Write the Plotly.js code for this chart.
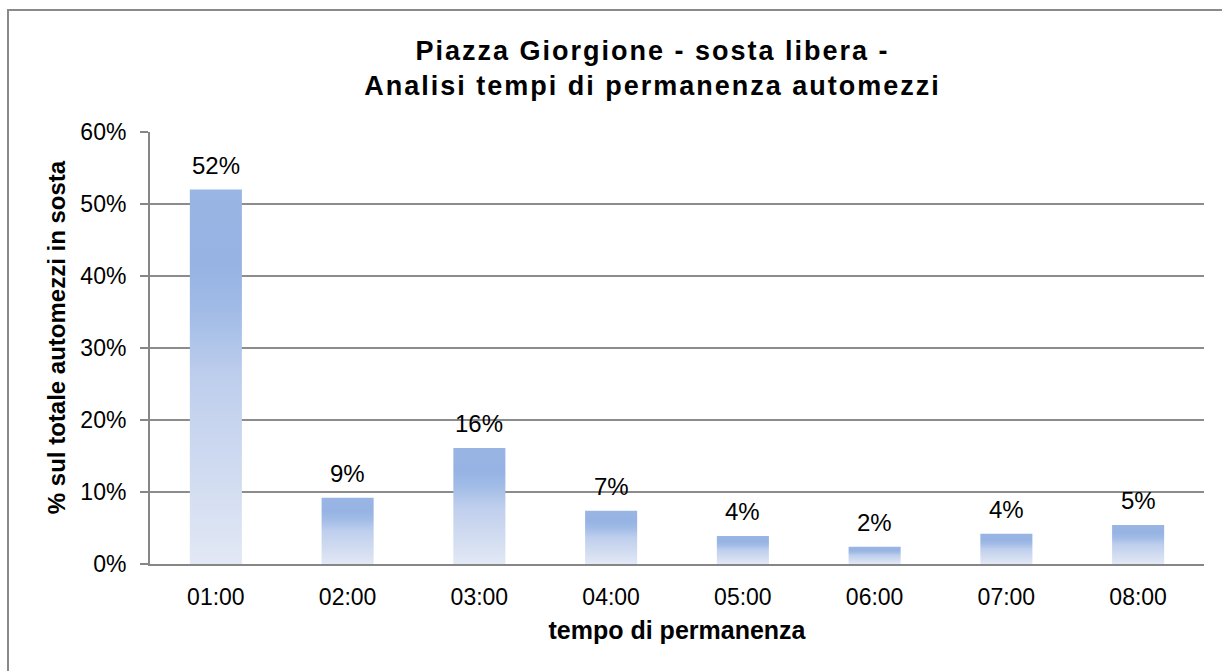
<!DOCTYPE html>
<html>
<head>
<meta charset="utf-8">
<script src="https://cdn.plot.ly/plotly-3.0.1.min.js"></script>
<style>
  html, body { margin: 0; padding: 0; background: #ffffff; }
  #wrap { position: relative; width: 1222px; height: 671px; overflow: hidden; }
  #chart { position: absolute; left: 0; top: 0; width: 1222px; height: 671px; }
  #frame { position: absolute; left: 7px; top: 9px; width: 1300px; height: 800px;
           border-left: 2px solid #8a8a8a; border-top: 2px solid #8a8a8a; pointer-events: none; }
</style>
</head>
<body>
<div id="wrap">
  <div id="chart"></div>
  <div id="frame"></div>
</div>
<script>
const categories = ["01:00", "02:00", "03:00", "04:00", "05:00", "06:00", "07:00", "08:00"];
const shares = [0.52, 0.092, 0.161, 0.074, 0.039, 0.024, 0.042, 0.054];
const yTickValues = [0, 0.1, 0.2, 0.3, 0.4, 0.5, 0.6];
const yTitleText = "<b>% sul totale automezzi in sosta</b>";

const font = "Liberation Sans, Arial, sans-serif";

const trace = {
  type: "bar",
  x: categories,
  y: shares,
  marker: { color: "#b3c7ea", line: { width: 0 } },
  hoverinfo: "none",
  showlegend: false
};

const annotations = categories.map((c, i) => ({
  x: c,
  y: shares[i],
  xref: "x",
  yref: "y",
  text: Math.round(shares[i] * 100) + "%",
  showarrow: false,
  yanchor: "bottom",
  yshift: 9,
  font: { family: font, size: 24, color: "#000000" }
}));

annotations.push({
  text: yTitleText,
  xref: "paper",
  yref: "paper",
  x: 0,
  y: 0.525,
  xanchor: "center",
  yanchor: "middle",
  xshift: -94,
  textangle: -90,
  showarrow: false,
  font: { family: font, size: 24, color: "#000000" }
});

const layout = {
  width: 1222,
  height: 671,
  margin: { l: 150, r: 18, t: 132, b: 107, pad: 0 },
  paper_bgcolor: "rgba(0,0,0,0)",
  plot_bgcolor: "#ffffff",
  bargap: 0.605,
  title: {
    text: "<b>Piazza Giorgione - sosta libera -<br>Analisi tempi di permanenza automezzi</b>",
    font: { family: font, size: 27, color: "#000000" },
    xref: "container",
    yref: "container",
    x: 0.534,
    xanchor: "center",
    y: 0.911,
    yanchor: "top"
  },
  xaxis: {
    type: "category",
    showline: true,
    linecolor: "#868686",
    linewidth: 2,
    ticks: "",
    showgrid: false,
    tickfont: { family: font, size: 23, color: "#000000" },
    ticklabelstandoff: 11,
    title: {
      text: "<b>tempo di permanenza</b>",
      font: { family: font, size: 25, color: "#000000" },
      standoff: 13
    }
  },
  yaxis: {
    range: [0, 0.6],
    tickvals: yTickValues,
    tickformat: ".0%",
    showline: true,
    linecolor: "#868686",
    linewidth: 2,
    ticks: "outside",
    ticklen: 8,
    tickwidth: 1.5,
    tickcolor: "#868686",
    showgrid: true,
    gridcolor: "#8c8c8c",
    gridwidth: 1.3,
    zeroline: false,
    tickfont: { family: font, size: 23, color: "#000000" },
    ticklabelstandoff: 9
  },
  annotations: annotations
};

Plotly.newPlot("chart", [trace], layout, { displayModeBar: false, staticPlot: true }).then(gd => {
  const svg = gd.querySelector(".main-svg");
  const NS = "http://www.w3.org/2000/svg";
  let defs = svg.querySelector("defs");
  if (!defs) { defs = document.createElementNS(NS, "defs"); svg.insertBefore(defs, svg.firstChild); }
  const grad = document.createElementNS(NS, "linearGradient");
  grad.setAttribute("id", "barGrad");
  grad.setAttribute("x1", "0"); grad.setAttribute("y1", "0");
  grad.setAttribute("x2", "0"); grad.setAttribute("y2", "1");
  const stops = [
    [0, "rgb(152,181,228)"],
    [0.2, "rgb(150,179,227)"],
    [0.32, "rgb(160,187,230)"],
    [0.5, "rgb(190,206,237)"],
    [0.75, "rgb(208,219,240)"],
    [1, "rgb(226,232,245)"]
  ];
  stops.forEach(([o, c]) => {
    const s = document.createElementNS(NS, "stop");
    s.setAttribute("offset", o);
    s.setAttribute("stop-color", c);
    grad.appendChild(s);
  });
  defs.appendChild(grad);
  gd.querySelectorAll(".barlayer .point path").forEach(p => {
    p.style.fill = "url(#barGrad)";
  });
  const t = gd.querySelector(".gtitle");
  if (t) t.style.letterSpacing = "2px";
});
</script>
</body>
</html>
